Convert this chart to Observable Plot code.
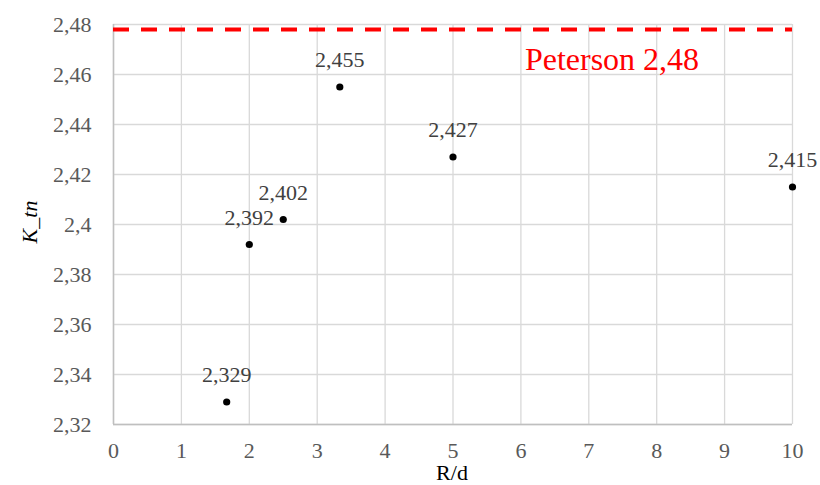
<!DOCTYPE html>
<html><head><meta charset="utf-8">
<script src="https://cdn.jsdelivr.net/npm/d3@7"></script>
<script src="https://cdn.jsdelivr.net/npm/@observablehq/plot@0.6"></script>
<style>body{margin:0;background:#fff} #chart{width:820px;height:485px} #chart svg, #chart svg text{font-family:'Liberation Serif','Times New Roman','DejaVu Serif',serif !important}</style>
</head><body><div id="chart"></div>
<script>
const rd = [1.667, 2, 2.5, 3.333, 5, 10];
const ktn = [2.329, 2.392, 2.402, 2.455, 2.427, 2.415];
const pointLabels = ["2,329", "2,392", "2,402", "2,455", "2,427", "2,415"];
const xTicks = [0, 1, 2, 3, 4, 5, 6, 7, 8, 9, 10];
const yTicks = [2.32, 2.34, 2.36, 2.38, 2.40, 2.42, 2.44, 2.46, 2.48];
const petersonValue = 2.478;
const petersonLabel = "Peterson 2,48";
const xLabel = "R/d";

const data = rd.map((x, i) => ({x, y: ktn[i], label: pointLabels[i]}));
const fmt = d => String(d).replace(".", ",");
const font = "'Liberation Serif', 'Times New Roman', serif";

const chart = Plot.plot({
  width: 820,
  height: 485,
  marginLeft: 113,
  marginRight: 28,
  marginTop: 24,
  marginBottom: 61,
  style: {fontFamily: font, fontSize: "22px", background: "#fff", color: "#595959"},
  x: {domain: [0, 10], ticks: xTicks, tickFormat: d => String(d), label: null},
  y: {domain: [2.32, 2.48], ticks: yTicks, tickFormat: fmt, label: null},
  marks: [
    Plot.gridX(xTicks, {stroke: "#d9d9d9", strokeOpacity: 1, strokeWidth: 1.3}),
    Plot.gridY(yTicks, {stroke: "#d9d9d9", strokeOpacity: 1, strokeWidth: 1.3}),
    Plot.ruleX([0], {stroke: "#bfbfbf", strokeWidth: 1.5}),
    Plot.ruleY([2.32], {stroke: "#bfbfbf", strokeWidth: 1.5}),
    Plot.axisX(xTicks, {tickSize: 0, tickPadding: 18, fill: "#595959", fontSize: 22, tickFormat: d => String(d), label: null}),
    Plot.axisY(yTicks, {tickSize: 0, tickPadding: 22, fill: "#595959", fontSize: 22, tickFormat: fmt, label: null}),
    Plot.ruleY([petersonValue], {stroke: "#ff0000", strokeWidth: 3.8, strokeDasharray: "16,12"}),
    Plot.text([petersonLabel], {x: 6, y: petersonValue, text: d => d, textAnchor: "start", dx: 4, dy: 30, fill: "#ff0000", fontSize: 32}),
    Plot.dot(data, {x: "x", y: "y", r: 3.6, fill: "#000", stroke: "none"}),
    Plot.text(data, {x: "x", y: "y", text: "label", dy: -27, fill: "#404040", fontSize: 22})
  ]
});
document.getElementById("chart").appendChild(chart);

const svg = d3.select(chart);
svg.append("text")
  .attr("text-anchor", "middle")
  .attr("x", 452).attr("y", 480)
  .attr("fill", "#000").attr("font-size", 22)
  .text(xLabel);
const yl = svg.append("text")
  .attr("text-anchor", "middle")
  .attr("transform", "translate(37,222) rotate(-90)")
  .attr("fill", "#000").attr("font-size", 22);
yl.append("tspan").attr("font-style", "italic").text("K");
yl.append("tspan").text("_");
yl.append("tspan").attr("font-style", "italic").text("tn");
</script>
</body></html>
